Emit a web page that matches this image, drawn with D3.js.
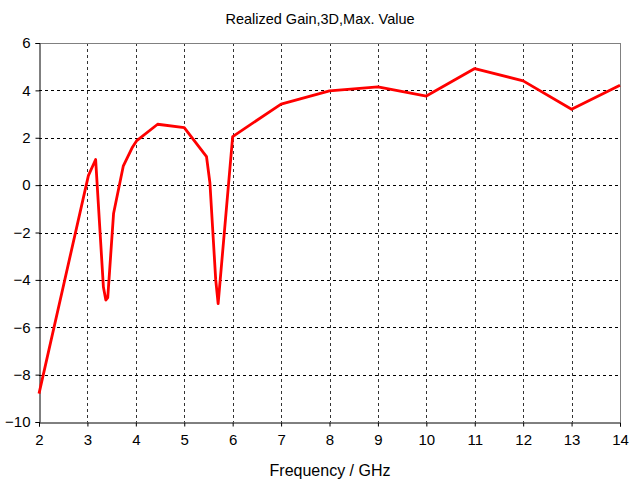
<!DOCTYPE html>
<html>
<head>
<meta charset="utf-8">
<script src="https://cdn.jsdelivr.net/npm/d3@7"></script>
<style>
  body { margin: 0; background: #ffffff; }
  text { font-family: "Liberation Sans", Arial, sans-serif; fill: #000; }
</style>
</head>
<body>
<div class="svg-container"></div>
<script>
let w = 629;
let h = 490;
let margin = {top: 43, right: 9, bottom: 68, left: 39};

// data
let freq = [2, 3.02, 3.17, 3.33, 3.38, 3.42, 3.54, 3.74, 3.93, 4.02, 4.45, 5.0, 5.46, 5.53, 5.65, 5.7, 5.73, 6.0, 7, 8, 9, 10, 11, 12, 13, 14];
let gain = [-8.8, 0.4, 1.08, -4.3, -4.85, -4.75, -1.2, 0.8, 1.6, 1.88, 2.57, 2.43, 1.2, 0.1, -4.0, -5.0, -4.3, 2.05, 3.42, 3.98, 4.15, 3.76, 4.92, 4.4, 3.2, 4.22];

let xTicks = [2, 3, 4, 5, 6, 7, 8, 9, 10, 11, 12, 13, 14];
let yTicks = [-10, -8, -6, -4, -2, 0, 2, 4, 6];

let titleText = "Realized Gain,3D,Max. Value";
let xLabelText = "Frequency / GHz";

let data = freq.map(function(f, i){
  return {f: f, g: gain[i]};
});

let svg = d3.select(".svg-container")
  .append("svg")
  .attr("width", w)
  .attr("height", h);

let iw = w - margin.left - margin.right;
let ih = h - margin.top - margin.bottom;

let x = d3.scaleLinear().domain([2, 14]).range([0, iw]);
let y = d3.scaleLinear().domain([-10, 6]).range([ih, 0]);

let g = svg.append("g")
  .attr("transform", "translate(" + margin.left + "," + margin.top + ")");

//----grid----
g.append("g")
  .selectAll("line")
  .data(xTicks.slice(1, -1))
  .enter()
  .append("line")
    .attr("x1", function(d){ return Math.round(x(d)) + 0.5; })
    .attr("x2", function(d){ return Math.round(x(d)) + 0.5; })
    .attr("y1", 0)
    .attr("y2", ih)
    .attr("stroke", "#333")
    .attr("stroke-width", 1)
    .attr("stroke-dasharray", "3,3");

g.append("g")
  .selectAll("line")
  .data(yTicks.slice(1, -1))
  .enter()
  .append("line")
    .attr("x1", 0)
    .attr("x2", iw)
    .attr("y1", function(d){ return Math.round(y(d)) + 0.5; })
    .attr("y2", function(d){ return Math.round(y(d)) + 0.5; })
    .attr("stroke", "#000")
    .attr("stroke-width", 1)
    .attr("stroke-dasharray", "3,3");

// top and right frame
g.append("line")
  .attr("x1", 0).attr("x2", iw).attr("y1", 0.5).attr("y2", 0.5)
  .attr("stroke", "#808080");
g.append("line")
  .attr("x1", iw + 0.5).attr("x2", iw + 0.5).attr("y1", 0).attr("y2", ih)
  .attr("stroke", "#808080");

//----axes----
let xAxis = d3.axisBottom(x)
  .tickValues(xTicks)
  .tickSize(4)
  .tickPadding(8)
  .tickFormat(d3.format("d"));

let xAxisGroup = g.append("g")
  .attr("class", "axis axis--x")
  .attr("transform", "translate(0," + (ih + 0.5) + ")")
  .call(xAxis);

let yAxis = d3.axisLeft(y)
  .tickValues(yTicks)
  .tickSize(4)
  .tickPadding(5)
  .tickFormat(d3.format("d"));

let yAxisGroup = g.append("g")
  .attr("class", "axis axis--y")
  .attr("transform", "translate(0.5,0)")
  .call(yAxis);

svg.selectAll(".axis .domain")
  .attr("stroke", "#000");
svg.selectAll(".axis text")
  .attr("font-size", "15px")
  .attr("font-family", "'Liberation Sans', Arial, sans-serif");

//----curve----
let line = d3.line()
  .x(function(d){ return x(d.f); })
  .y(function(d){ return y(d.g); });

g.append("path")
  .datum(data)
  .attr("d", line)
  .attr("fill", "none")
  .attr("stroke", "#ff0000")
  .attr("stroke-width", 2.8)
  .attr("stroke-linejoin", "round");

//----labels----
svg.append("text")
  .attr("x", 320)
  .attr("y", 24)
  .attr("text-anchor", "middle")
  .attr("font-size", "14.5px")
  .text(titleText);

svg.append("text")
  .attr("x", 330)
  .attr("y", 476)
  .attr("text-anchor", "middle")
  .attr("font-size", "16px")
  .text(xLabelText);
</script>
</body>
</html>
